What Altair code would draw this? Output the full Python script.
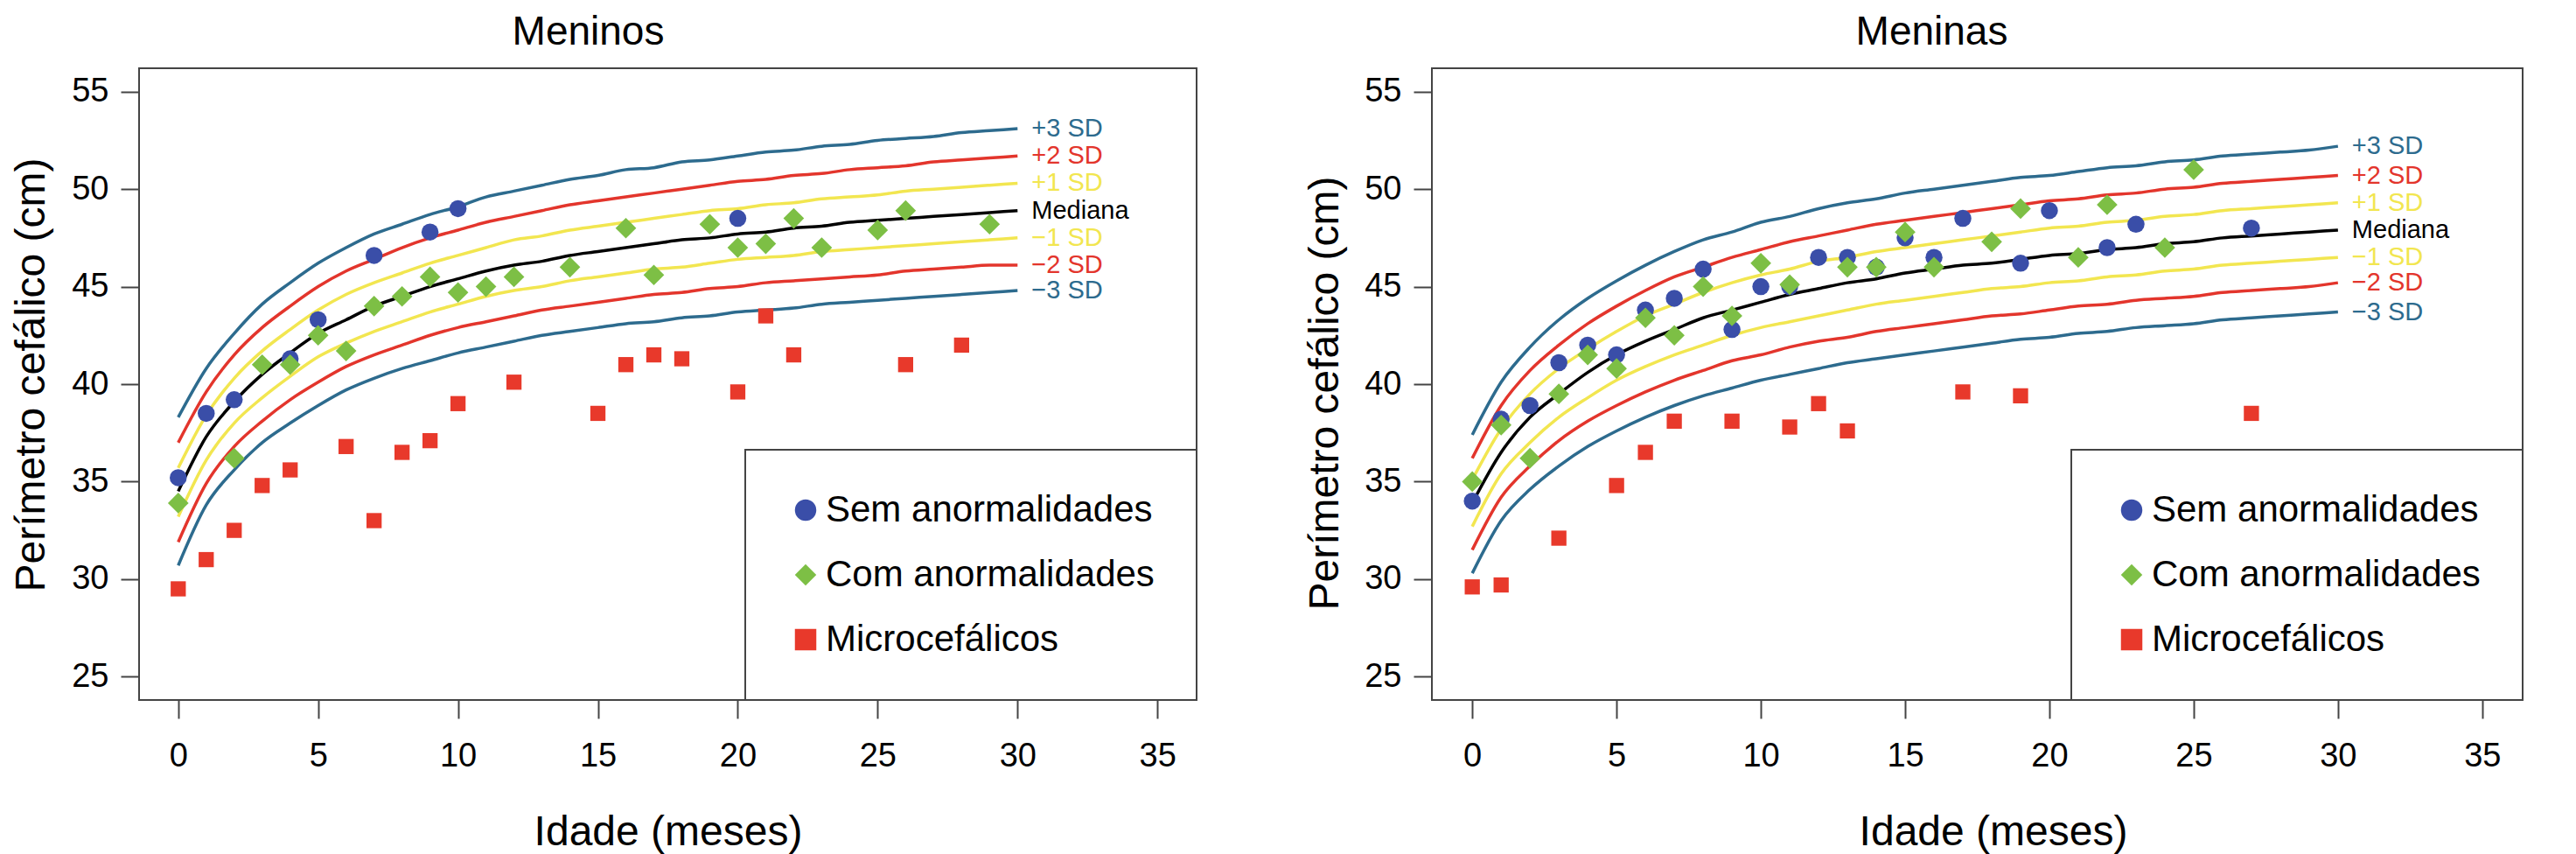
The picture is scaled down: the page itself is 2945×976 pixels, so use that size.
import altair as alt
import pandas as pd

FONT = "Liberation Sans, Arial, Helvetica, sans-serif"

# ---------------- data ----------------
meses = list(range(31))
curvas = ["+3 SD", "+2 SD", "+1 SD", "Mediana", "\u22121 SD", "\u22122 SD", "\u22123 SD"]
cores_curvas = ["#2d6b8e", "#e3352c", "#f2e650", "#000000", "#f2e650", "#e3352c", "#2d6b8e"]

# Meninos (boys) reference curves, month 0..30
m_p3 = [38.3, 40.8, 42.6, 44.1, 45.2, 46.2, 47.0, 47.7, 48.2, 48.7, 49.1, 49.6, 49.9, 50.2, 50.5, 50.7,
        51.0, 51.1, 51.4, 51.5, 51.7, 51.9, 52.0, 52.2, 52.3, 52.5, 52.6, 52.7, 52.9, 53.0, 53.1]
m_p2 = [37.0, 39.6, 41.5, 42.9, 44.0, 45.0, 45.8, 46.4, 47.0, 47.5, 47.9, 48.3, 48.6, 48.9, 49.2, 49.4,
        49.6, 49.8, 50.0, 50.2, 50.4, 50.5, 50.7, 50.8, 51.0, 51.1, 51.2, 51.4, 51.5, 51.6, 51.7]
m_p1 = [35.7, 38.4, 40.3, 41.7, 42.8, 43.8, 44.6, 45.2, 45.7, 46.2, 46.6, 47.0, 47.4, 47.6, 47.9, 48.1,
        48.3, 48.5, 48.7, 48.9, 49.0, 49.2, 49.3, 49.5, 49.6, 49.7, 49.9, 50.0, 50.1, 50.2, 50.3]
m_med = [34.5, 37.3, 39.1, 40.5, 41.6, 42.6, 43.3, 44.0, 44.5, 45.0, 45.4, 45.8, 46.1, 46.3, 46.6, 46.8,
         47.0, 47.2, 47.4, 47.5, 47.7, 47.8, 48.0, 48.1, 48.3, 48.4, 48.5, 48.6, 48.7, 48.8, 48.9]
m_m1 = [33.2, 36.1, 38.0, 39.3, 40.4, 41.4, 42.1, 42.7, 43.2, 43.7, 44.1, 44.5, 44.8, 45.0, 45.3, 45.5,
        45.7, 45.9, 46.0, 46.2, 46.4, 46.5, 46.6, 46.8, 46.9, 47.0, 47.1, 47.2, 47.3, 47.4, 47.5]
m_m2 = [31.9, 34.9, 36.8, 38.1, 39.2, 40.1, 40.9, 41.5, 42.0, 42.5, 42.9, 43.2, 43.5, 43.8, 44.0, 44.2,
        44.4, 44.6, 44.7, 44.9, 45.0, 45.2, 45.3, 45.4, 45.5, 45.6, 45.8, 45.9, 46.0, 46.1, 46.1]
m_m3 = [30.7, 33.8, 35.6, 37.0, 38.0, 38.9, 39.7, 40.3, 40.8, 41.2, 41.6, 41.9, 42.2, 42.5, 42.7, 42.9,
        43.1, 43.2, 43.4, 43.5, 43.7, 43.8, 43.9, 44.1, 44.2, 44.3, 44.4, 44.5, 44.6, 44.7, 44.8]

# Meninas (girls) reference curves, month 0..30
f_p3 = [37.4, 40.1, 41.9, 43.3, 44.4, 45.3, 46.1, 46.8, 47.4, 47.8, 48.3, 48.6, 49.0, 49.3, 49.5, 49.8,
        50.0, 50.2, 50.4, 50.6, 50.7, 50.9, 51.1, 51.2, 51.4, 51.5, 51.7, 51.8, 51.9, 52.0, 52.2]
f_p2 = [36.2, 38.9, 40.7, 42.0, 43.1, 44.0, 44.8, 45.5, 46.0, 46.5, 46.9, 47.3, 47.6, 47.9, 48.2, 48.4,
        48.6, 48.8, 49.0, 49.2, 49.4, 49.5, 49.7, 49.8, 50.0, 50.1, 50.3, 50.4, 50.5, 50.6, 50.7]
f_p1 = [35.1, 37.7, 39.5, 40.8, 41.8, 42.7, 43.5, 44.1, 44.7, 45.2, 45.6, 45.9, 46.3, 46.5, 46.8, 47.0,
        47.2, 47.4, 47.6, 47.8, 48.0, 48.1, 48.3, 48.4, 48.6, 48.7, 48.9, 49.0, 49.1, 49.2, 49.3]
f_med = [33.9, 36.5, 38.3, 39.5, 40.6, 41.5, 42.2, 42.8, 43.4, 43.8, 44.2, 44.6, 44.9, 45.2, 45.4, 45.7,
         45.9, 46.1, 46.2, 46.4, 46.6, 46.7, 46.9, 47.0, 47.2, 47.3, 47.5, 47.6, 47.7, 47.8, 47.9]
f_m1 = [32.7, 35.4, 37.0, 38.3, 39.3, 40.2, 40.9, 41.5, 42.0, 42.5, 42.9, 43.2, 43.5, 43.8, 44.1, 44.3,
        44.5, 44.7, 44.9, 45.0, 45.2, 45.3, 45.5, 45.6, 45.8, 45.9, 46.1, 46.2, 46.3, 46.4, 46.5]
f_m2 = [31.5, 34.2, 35.8, 37.1, 38.1, 38.9, 39.6, 40.2, 40.7, 41.2, 41.5, 41.9, 42.2, 42.4, 42.7, 42.9,
        43.1, 43.3, 43.5, 43.6, 43.8, 44.0, 44.1, 44.3, 44.4, 44.5, 44.7, 44.8, 44.9, 45.0, 45.2]
f_m3 = [30.3, 33.0, 34.6, 35.8, 36.8, 37.6, 38.3, 38.9, 39.4, 39.8, 40.2, 40.5, 40.8, 41.1, 41.3, 41.5,
        41.7, 41.9, 42.1, 42.3, 42.4, 42.6, 42.7, 42.9, 43.0, 43.1, 43.3, 43.4, 43.5, 43.6, 43.7]

grupos = ["Sem anormalidades", "Com anormalidades", "Microcef\u00e1licos"]
cores_grupos = ["#3a4ea8", "#7dbf45", "#e8392b"]
formas = ["circle", "diamond", "square"]
tamanhos = [380, 560, 300]

# Meninos points
m_sem_x = [0, 1, 2, 4, 5, 7, 9, 10, 20]
m_sem_y = [35.2, 38.5, 39.2, 41.3, 43.3, 46.6, 47.8, 49.0, 48.5]
m_com_x = [0, 2, 3, 4, 5, 6, 7, 8, 9, 10, 11, 12, 14, 16, 17, 19, 20, 21, 22, 23, 25, 26, 29]
m_com_y = [33.9, 36.2, 41.0, 41.0, 42.5, 41.7, 44.0, 44.5, 45.5, 44.7, 45.0, 45.5, 46.0, 48.0, 45.6,
           48.2, 47.0, 47.2, 48.5, 47.0, 47.9, 48.9, 48.2]
m_mic_x = [0, 1, 2, 3, 4, 6, 7, 8, 9, 10, 12, 15, 16, 17, 18, 20, 21, 22, 26, 28]
m_mic_y = [29.5, 31.0, 32.5, 34.8, 35.6, 36.8, 33.0, 36.5, 37.1, 39.0, 40.1, 38.5, 41.0, 41.5, 41.3,
           39.6, 43.5, 41.5, 41.0, 42.0]

# Meninas points
f_sem_x = [0, 1, 2, 3, 4, 5, 6, 7, 8, 9, 10, 11, 12, 13, 14, 15, 16, 17, 19, 20, 22, 23, 27]
f_sem_y = [34.0, 38.2, 38.9, 41.1, 42.0, 41.5, 43.8, 44.4, 45.9, 42.8, 45.0, 45.0, 46.5, 46.5, 46.0,
           47.5, 46.5, 48.5, 46.2, 48.9, 47.0, 48.2, 48.0]
f_com_x = [0, 1, 2, 3, 4, 5, 6, 7, 8, 9, 10, 11, 13, 14, 15, 16, 18, 19, 21, 22, 24, 25]
f_com_y = [35.0, 37.9, 36.2, 39.5, 41.5, 40.8, 43.4, 42.5, 45.0, 43.5, 46.2, 45.1, 46.0, 46.0, 47.8,
           46.0, 47.3, 49.0, 46.5, 49.2, 47.0, 51.0]
f_mic_x = [0, 1, 3, 5, 6, 7, 9, 11, 12, 13, 17, 19, 27]
f_mic_y = [29.6, 29.7, 32.1, 34.8, 36.5, 38.1, 38.1, 37.8, 39.0, 37.6, 39.6, 39.4, 38.5]

x_ticks = [0, 5, 10, 15, 20, 25, 30, 35]
y_ticks = [25, 30, 35, 40, 45, 50, 55]


def curves_frame(arrs):
    rows = []
    for nome, arr in zip(curvas, arrs):
        for m, v in zip(meses, arr):
            rows.append({"idade": m, "pc": v, "curva": nome})
    return pd.DataFrame(rows)


def points_frame(groups):
    rows = []
    for nome, (xs, ys) in zip(grupos, groups):
        for a, b in zip(xs, ys):
            rows.append({"idade": a, "pc": b, "grupo": nome})
    return pd.DataFrame(rows)


def panel(title, cdf, pdf, w, h, title_dx, title_off, ytx, yty, xtx):
    xs = alt.X("idade:Q", scale=alt.Scale(domain=[-1.4, 36.4], nice=False, zero=False),
               axis=alt.Axis(values=x_ticks, title="Idade (meses)", titleY=165, titleX=xtx,
                             titleBaseline="alphabetic", labelPadding=24))
    ys = alt.Y("pc:Q", scale=alt.Scale(domain=[23.8, 56.2], nice=False, zero=False),
               axis=alt.Axis(values=y_ticks, title="Per\u00edmetro cef\u00e1lico (cm)", titleX=ytx,
                             titleY=yty, titleBaseline="alphabetic", titleAlign="center",
                             labelPadding=14))
    lines = alt.Chart(cdf).mark_line(strokeWidth=3.5, interpolate="monotone").encode(
        x=xs, y=ys,
        stroke=alt.Stroke("curva:N", scale=alt.Scale(domain=curvas, range=cores_curvas), legend=None),
    )
    labels = alt.Chart(cdf).transform_filter(alt.datum.idade == 30).mark_text(
        align="left", baseline="middle", dx=16, fontSize=29, font=FONT
    ).encode(
        x=xs, y=ys, text="curva:N",
        color=alt.Color("curva:N", scale=alt.Scale(domain=curvas, range=cores_curvas), legend=None),
    )
    leg = alt.Legend(orient="bottom-right", offset=0, title=None, padding=48,
                     strokeColor="#444444", fillColor="white", labelFontSize=42, labelFont=FONT,
                     labelColor="black", labelLimit=800, symbolSize=600, symbolStrokeWidth=0,
                     rowPadding=32, labelOffset=2)
    layers = [lines, labels]
    for g, s in zip(grupos, tamanhos):
        layers.append(
            alt.Chart(pdf).transform_filter(alt.datum.grupo == g)
            .mark_point(filled=True, opacity=1, strokeWidth=0, size=s)
            .encode(
                x=xs, y=ys,
                fill=alt.Fill("grupo:N", scale=alt.Scale(domain=grupos, range=cores_grupos), legend=leg),
                shape=alt.Shape("grupo:N", scale=alt.Scale(domain=grupos, range=formas), legend=leg),
            )
        )
    return alt.layer(*layers).properties(
        width=w, height=h,
        title=alt.TitleParams(title, fontSize=46, font=FONT, fontWeight="normal", anchor="middle",
                              dx=title_dx, offset=title_off, baseline="alphabetic", color="black"),
    )


cm = curves_frame([m_p3, m_p2, m_p1, m_med, m_m1, m_m2, m_m3])
cf = curves_frame([f_p3, f_p2, f_p1, f_med, f_m1, f_m2, f_m3])
pm = points_frame([(m_sem_x, m_sem_y), (m_com_x, m_com_y), (m_mic_x, m_mic_y)])
pf = points_frame([(f_sem_x, f_sem_y), (f_com_x, f_com_y), (f_mic_x, f_mic_y)])

left = panel("Meninos", cm, pm, 1209, 722, -91, -19, -109, 350, 604.5)
right = panel("Meninas", cf, pf, 1247, 722, -52, -19, -108, 371, 641.5)

chart = alt.hconcat(left, right, spacing=120).resolve_scale(
    fill="independent", shape="independent"
).configure(
    padding={"top": 5, "left": 3, "right": 0, "bottom": 0}, background="white"
).configure_view(
    stroke="#444444", strokeWidth=2
).configure_axis(
    domain=False, grid=False, labelFont=FONT, labelFontSize=38, labelColor="black",
    tickColor="#444444", tickWidth=2, tickSize=21, titleFont=FONT, titleFontSize=48,
    titleFontWeight="normal", titleColor="black"
).configure_legend(strokeWidth=2)

chart.save("out.html", embed_options={"renderer": "svg", "actions": False})
